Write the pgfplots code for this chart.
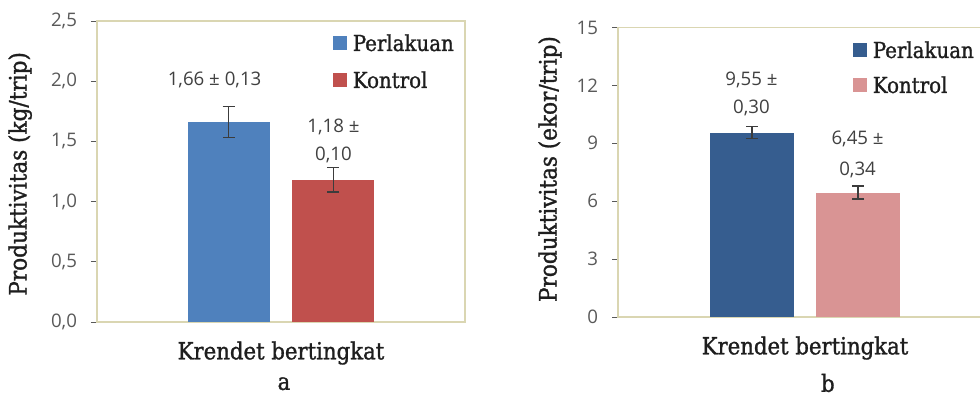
\documentclass[border=0pt]{standalone}
\usepackage{pgfplots}
\pgfplotsset{compat=1.18}
\usepackage{fontspec}
\setmainfont{DejaVu Serif Condensed}[FakeBold=1.2]
\newfontfamily\numfont{Open Sans}

\definecolor{frame}{RGB}{218,214,178}
\definecolor{tickgray}{RGB}{89,89,89}
\definecolor{labgray}{RGB}{64,64,64}
\definecolor{txt}{RGB}{30,30,30}
\definecolor{blueA}{RGB}{79,129,189}
\definecolor{redA}{RGB}{192,80,77}
\definecolor{blueB}{RGB}{54,93,143}
\definecolor{pinkB}{RGB}{217,148,148}
\definecolor{errc}{RGB}{60,60,60}

\tikzset{
  vallabel/.style={font=\numfont\fontsize{14}{21}\selectfont, text=labgray, align=center, anchor=center},
}

\pgfplotsset{
  prodaxis/.style={
    scale only axis,
    anchor=south west,
    axis line style={draw=frame, line width=0.8pt},
    ybar,
    xmin=-1, xmax=1, ymin=0,
    enlarge x limits=false,
    xtick={0},
    xticklabels={Krendet bertingkat},
    xtick style={draw=none},
    xticklabel style={font=\fontsize{17.7}{20}\selectfont, text=txt, anchor=center, yshift=-18.75pt},
    ytick pos=left,
    tick align=outside,
    major tick length=4.5pt,
    ytick style={draw=tickgray, line width=0.6pt},
    yticklabel style={font=\numfont\fontsize{14}{16}\selectfont, text=tickgray, xshift=-7pt},
    /pgf/number format/assume math mode=true,
    ylabel style={font=\fontsize{18}{20}\selectfont, text=txt, anchor=center},
    xlabel style={font=\fontsize{17.7}{20}\selectfont, text=txt, anchor=center},
    legend cell align=left,
    legend style={draw=none, fill=none, inner sep=0pt, outer sep=0pt,
      anchor=north west, column sep=4.5pt,
      font=\fontsize{16.5}{19}\selectfont,
      nodes={inner sep=0pt, text height=12pt, text depth=0pt, text=txt}},
    legend image code/.code={\fill[##1] (0pt,-5.25pt) rectangle (10.5pt,5.25pt);},
    error bars/error bar style={draw=errc, line width=0.9pt},
    error bars/error mark options={rotate=90, mark size=4.5pt, draw=errc, line width=0.9pt},
  },
}

\begin{document}
\begin{tikzpicture}
\path[use as bounding box, clip] (0,0) rectangle (735pt,297.75pt);

% (a) productivity in kg per trip
\begin{axis}[prodaxis,
  at={(72.75pt,56.25pt)},
  width=276pt, height=225.75pt,
  ymax=2.5, ytick={0,0.5,1,1.5,2,2.5},
  yticklabel={\pgfmathprintnumber[fixed, fixed zerofill, precision=1, use comma]{\tick}},
  ylabel={Produktivitas (kg/trip)},
  ylabel style={at={(axis description cs:-0.209,0.492)}},
  xlabel={a},
  xlabel style={at={(axis description cs:0.508,-0.205)}},
  legend style={at={(axis description cs:0.641,0.9535)}, row sep=15.75pt},
]
\addplot[fill=blueA, draw=none, bar width=61.5pt, bar shift=-39.2pt,
  error bars/.cd, y dir=both, y explicit]
  coordinates {(0,1.66) +- (0,0.13)};
\addlegendentry{Perlakuan}
\addplot[fill=redA, draw=none, bar width=61.5pt, bar shift=39.2pt,
  error bars/.cd, y dir=both, y explicit]
  coordinates {(0,1.18) +- (0,0.10)};
\addlegendentry{Kontrol}
\node[vallabel] at (axis cs:-0.361,2.01) {1,66 ± 0,13};
\node[vallabel] at (axis cs:0.285,1.503) {1,18 ±\\0,10};
\end{axis}

% (b) productivity in individuals per trip
\begin{axis}[prodaxis,
  at={(463.5pt,60pt)},
  width=280.5pt, height=217.125pt,
  ymax=15, ytick={0,3,6,9,12,15},
  ylabel={Produktivitas (ekor/trip)},
  ylabel style={at={(axis description cs:-0.182,0.511)}},
  xlabel={b},
  xlabel style={at={(axis description cs:0.561,-0.228)}},
  legend style={at={(axis description cs:0.628,0.950)}, row sep=14.25pt},
]
\addplot[fill=blueB, draw=none, bar width=63pt, bar shift=-39.75pt,
  error bars/.cd, y dir=both, y explicit]
  coordinates {(0,9.55) +- (0,0.30)};
\addlegendentry{Perlakuan}
\addplot[fill=pinkB, draw=none, bar width=63pt, bar shift=39.75pt,
  error bars/.cd, y dir=both, y explicit]
  coordinates {(0,6.45) +- (0,0.34)};
\addlegendentry{Kontrol}
\node[vallabel] at (axis cs:-0.286,11.58) {9,55 ±\\0,30};
\node[vallabel, font=\numfont\fontsize{14}{23}\selectfont] at (axis cs:0.281,8.42) {6,45 ±\\0,34};
\end{axis}
\end{tikzpicture}
\end{document}
